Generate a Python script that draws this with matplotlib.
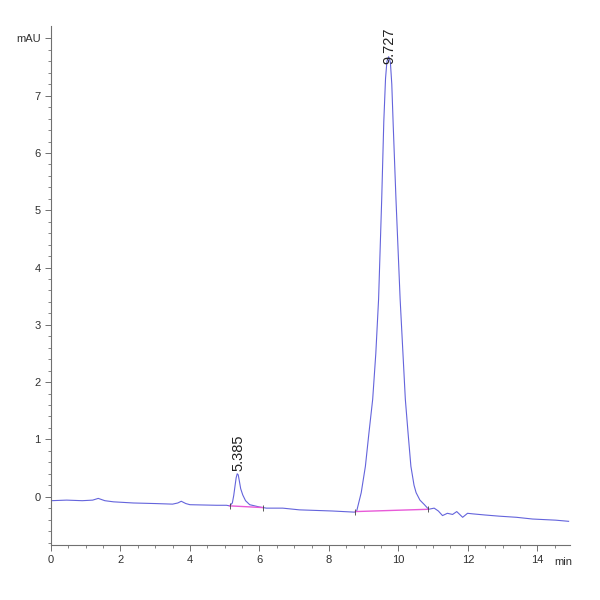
import numpy as np
import matplotlib
matplotlib.use("Agg")
from matplotlib import pyplot as plt

# trace (min, mAU)
time = [0.0, 0.45, 0.9, 1.2, 1.36, 1.55, 1.8, 2.37, 3.0, 3.5, 3.65, 3.75, 3.88, 4.0,
        4.76, 5.05, 5.14, 5.22, 5.26, 5.30, 5.33, 5.36, 5.39, 5.42, 5.46, 5.52, 5.6,
        5.72, 6.0, 6.2, 6.67, 7.15, 8.1, 8.74, 8.80, 8.93, 9.05, 9.15, 9.26, 9.35,
        9.43, 9.52, 9.58, 9.63, 9.67, 9.72, 9.77, 9.81, 9.85, 9.93, 10.05, 10.20,
        10.28, 10.36, 10.45, 10.51, 10.62, 10.75, 10.87, 11.03, 11.15, 11.27, 11.41,
        11.56, 11.68, 11.85, 11.99, 12.14, 12.5, 12.9, 13.4, 13.86, 14.53, 14.9]
signal = [-0.07, -0.06, -0.07, -0.06, -0.03, -0.07, -0.09, -0.11, -0.12, -0.13, -0.11,
          -0.08, -0.12, -0.14, -0.15, -0.15, -0.16, -0.11, 0.02, 0.20, 0.33, 0.40, 0.38,
          0.28, 0.14, 0.03, -0.07, -0.14, -0.18, -0.20, -0.20, -0.23, -0.25, -0.27,
          -0.25, 0.07, 0.53, 1.10, 1.70, 2.50, 3.45, 5.20, 6.55, 7.30, 7.60, 7.68,
          7.58, 7.20, 6.50, 5.20, 3.45, 1.70, 1.10, 0.53, 0.20, 0.07, -0.06, -0.14,
          -0.22, -0.20, -0.25, -0.33, -0.29, -0.31, -0.26, -0.36, -0.29, -0.30, -0.32,
          -0.34, -0.36, -0.39, -0.41, -0.43]

# integration baselines (start, end)
base_t = [[5.14, 6.09], [8.76, 10.86]]
base_y = [[-0.16, -0.19], [-0.26, -0.22]]

peak_rt = [5.385, 9.727]
peak_h = [0.40, 7.68]

line_col = "#6464dc"
base_col = "#e85ad8"
axis_col = "#707070"

fig = plt.figure(figsize=(6, 6), dpi=100)
ax = fig.add_axes([0.085, 0.092, 0.865, 0.865])

ax.plot(time, signal, color=line_col, lw=0.8)
for bt, by in zip(base_t, base_y):
    ax.plot(bt, by, color=base_col, lw=1.0)
    ax.plot(bt, by, ls="none", marker="|", ms=5, color="#404040", mew=0.6)

label_off = [0.05, -0.12]
for rt, h, off in zip(peak_rt, peak_h, label_off):
    ax.text(rt, h + off, "%.3f" % rt, rotation=90, ha="center", va="bottom",
            fontsize=10.5, color="#202020", family="Liberation Sans")

ax.set_xlim(0, 14.94)
ax.set_ylim(-0.84, 8.22)

ax.set_xticks([0, 2, 4, 6, 8, 10, 12, 14])
ax.set_xticks(np.arange(0, 15, 0.5), minor=True)
ax.set_yticks([0, 1, 2, 3, 4, 5, 6, 7, 8])
ax.set_yticklabels(["0", "1", "2", "3", "4", "5", "6", "7", "mAU"])
ax.set_yticks(np.arange(-0.8, 8.2, 0.2), minor=True)

for s in ["top", "right"]:
    ax.spines[s].set_visible(False)
for s in ["left", "bottom"]:
    ax.spines[s].set_color(axis_col)
    ax.spines[s].set_linewidth(0.8)

ax.tick_params(which="both", direction="out", colors=axis_col, labelcolor="#303030",
               labelsize=8)
ax.tick_params(which="major", length=4, width=0.7)
ax.tick_params(which="minor", length=2.5, width=0.6)
for lab in ax.get_xticklabels() + ax.get_yticklabels():
    lab.set_family("Liberation Sans")

ax.text(14.75, -1.14, "min", ha="center", va="center", fontsize=8,
        color="#303030", family="Liberation Sans")

fig.savefig("out.png")
